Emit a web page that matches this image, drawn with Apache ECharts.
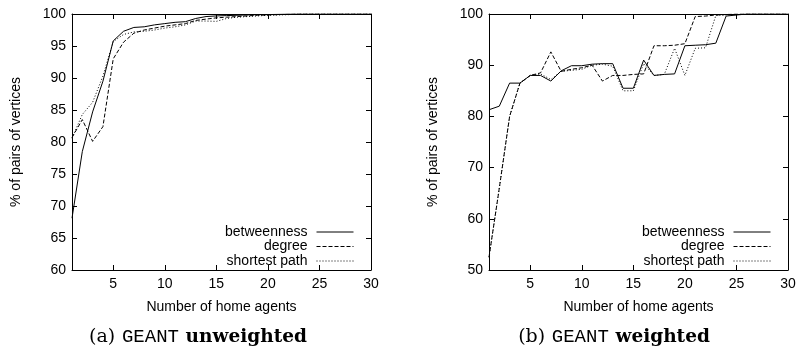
<!DOCTYPE html>
<html>
<head>
<meta charset="utf-8">
<script src="https://cdn.jsdelivr.net/npm/echarts@6.0.0/dist/echarts.min.js"></script>
<style>
  html, body { margin: 0; padding: 0; background: #fff; }
  #chart { width: 799px; height: 354px; }
</style>
</head>
<body>
<div id="chart"></div>
<script>
// number of home agents
const agents = [1, 2, 3, 4, 5, 6, 7, 8, 9, 10, 11, 12, 13, 14, 15, 16, 17, 18, 19, 20, 21, 22, 23, 24, 25, 26, 27, 28, 29, 30]
const xTicks = [5, 10, 15, 20, 25, 30]

// (a) GEANT unweighted
const unwBetweenness = [68.1, 78.5, 84.7, 89.5, 95.8, 97.3, 97.9, 98.0, 98.3, 98.5, 98.7, 98.8, 99.3, 99.6, 99.7, 99.75, 99.8, 99.85, 99.9, 99.9, 99.95, 100, 100, 100, 100, 100, 100, 100, 100, 100]
const unwDegree = [80.7, 83.5, 80.1, 82.4, 93.0, 95.6, 97.0, 97.5, 97.8, 98.1, 98.3, 98.5, 99.0, 99.2, 99.4, 99.5, 99.6, 99.7, 99.8, 99.85, 99.9, 99.95, 100, 100, 100, 100, 100, 100, 100, 100]
const unwShortest = [80.6, 84.3, 86.2, 90.3, 95.7, 96.8, 97.2, 97.3, 97.5, 97.8, 98.0, 98.3, 98.9, 98.9, 98.85, 99.3, 99.5, 99.6, 99.7, 99.8, 99.85, 99.9, 100, 100, 100, 100, 100, 100, 100, 100]

// (b) GEANT weighted
const wBetweenness = [81.3, 82.0, 86.5, 86.5, 88.0, 88.0, 86.9, 88.9, 89.9, 89.9, 90.2, 90.3, 90.3, 85.5, 85.5, 91.0, 88.0, 88.2, 88.3, 93.8, 93.9, 94.0, 94.3, 99.6, 99.8, 100, 100, 100, 100, 100]
const wDegree = [52.5, 66.0, 80.0, 86.5, 88.0, 88.5, 92.6, 88.8, 89.2, 89.5, 90.0, 86.9, 88.0, 88.0, 88.2, 88.3, 93.8, 93.8, 93.9, 94.2, 99.5, 99.6, 99.8, 99.9, 100, 100, 100, 100, 100, 100]
const wShortest = [52.5, 66.0, 80.0, 86.5, 88.0, 88.3, 87.2, 88.8, 89.0, 89.2, 90.0, 90.2, 89.8, 85.0, 85.0, 90.3, 88.0, 88.2, 93.3, 88.0, 93.3, 93.4, 99.7, 99.8, 99.9, 100, 100, 100, 100, 100]

const seriesNames = ['betweenness', 'degree', 'shortest path']
const dashTypes = ['solid', [4, 2], [1, 2]]

const FONT = 'Liberation Sans, Arial, sans-serif'
const chart = echarts.init(document.getElementById('chart'))

const pairs = arr => agents.map((x, i) => [x, arr[i]])

function xAxes(grid) {
  const common = {
    type: 'value', gridIndex: grid, min: 1, max: 30,
    splitLine: { show: false },
    axisLine: { lineStyle: { color: '#000', width: 1 } },
    axisTick: { inside: true, length: 5, customValues: xTicks, lineStyle: { color: '#000' } }
  }
  return [
    Object.assign({}, common, {
      position: 'bottom',
      axisLabel: { customValues: xTicks, color: '#000', fontSize: 14, fontFamily: FONT, margin: 7 },
      name: 'Number of home agents', nameLocation: 'middle', nameGap: 30,
      nameTextStyle: { color: '#000', fontSize: 14, fontFamily: FONT }
    }),
    Object.assign({}, common, { position: 'top', axisLabel: { show: false } })
  ]
}

function yAxes(grid, min, interval) {
  const common = {
    type: 'value', gridIndex: grid, min: min, max: 100, interval: interval,
    splitLine: { show: false },
    axisLine: { show: true, lineStyle: { color: '#000', width: 1 } },
    axisTick: { show: true, inside: true, length: 5, lineStyle: { color: '#000' } }
  }
  return [
    Object.assign({}, common, {
      position: 'left',
      axisLabel: { color: '#000', fontSize: 14, fontFamily: FONT, margin: 6 },
      name: '% of pairs of vertices', nameLocation: 'middle', nameGap: 49, nameRotate: 90,
      nameTextStyle: { color: '#000', fontSize: 14, fontFamily: FONT }
    }),
    Object.assign({}, common, { position: 'right', axisLabel: { show: false } })
  ]
}

function lines(datasets, xi, yi) {
  return datasets.map((d, k) => ({
    name: seriesNames[k], type: 'line', xAxisIndex: xi, yAxisIndex: yi,
    symbol: 'none', animation: false, silent: true,
    itemStyle: { color: '#000' },
    lineStyle: { color: '#000', width: 1, type: dashTypes[k] },
    data: pairs(d)
  }))
}

function legends(right) {
  const tops = [225, 239.5, 254]
  return seriesNames.map((n, k) => ({
    data: [n], orient: 'vertical', align: 'right', right: right, top: tops[k],
    padding: 0, itemWidth: 37, itemHeight: 8, selectedMode: false,
    itemStyle: { opacity: 0 },
    lineStyle: { width: 1 },
    textStyle: { color: '#000', fontSize: 14, fontFamily: FONT, padding: [0, 4, 0, 0] }
  }))
}

const capRich = {
  p: { fontFamily: 'DejaVu Serif', fontSize: 19, color: '#000' },
  m: { fontFamily: 'Liberation Mono', fontSize: 19, color: '#000' },
  b: { fontFamily: 'DejaVu Serif', fontWeight: 'bold', fontSize: 18.5, color: '#000' }
}

chart.setOption({
  backgroundColor: '#fff',
  animation: false,
  grid: [
    { left: 72, right: 428, top: 14, bottom: 84, show: false },
    { left: 489, right: 11, top: 14, bottom: 84, show: false }
  ],
  xAxis: xAxes(0).concat(xAxes(1)),
  yAxis: yAxes(0, 60, 5).concat(yAxes(1, 50, 10)),
  legend: legends(445).concat(legends(28)),
  series: lines([unwBetweenness, unwDegree, unwShortest], 0, 0)
    .concat(lines([wBetweenness, wDegree, wShortest], 2, 2)),
  graphic: [
    { type: 'text', x: 198, y: 337, style: { text: '{p|(a)}  {m|GEANT}  {b|unweighted}', rich: capRich, align: 'center', verticalAlign: 'middle' } },
    { type: 'text', x: 614, y: 337, style: { text: '{p|(b)}  {m|GEANT}  {b|weighted}', rich: capRich, align: 'center', verticalAlign: 'middle' } }
  ]
})

window.addEventListener('resize', () => chart.resize())
</script>
</body>
</html>
